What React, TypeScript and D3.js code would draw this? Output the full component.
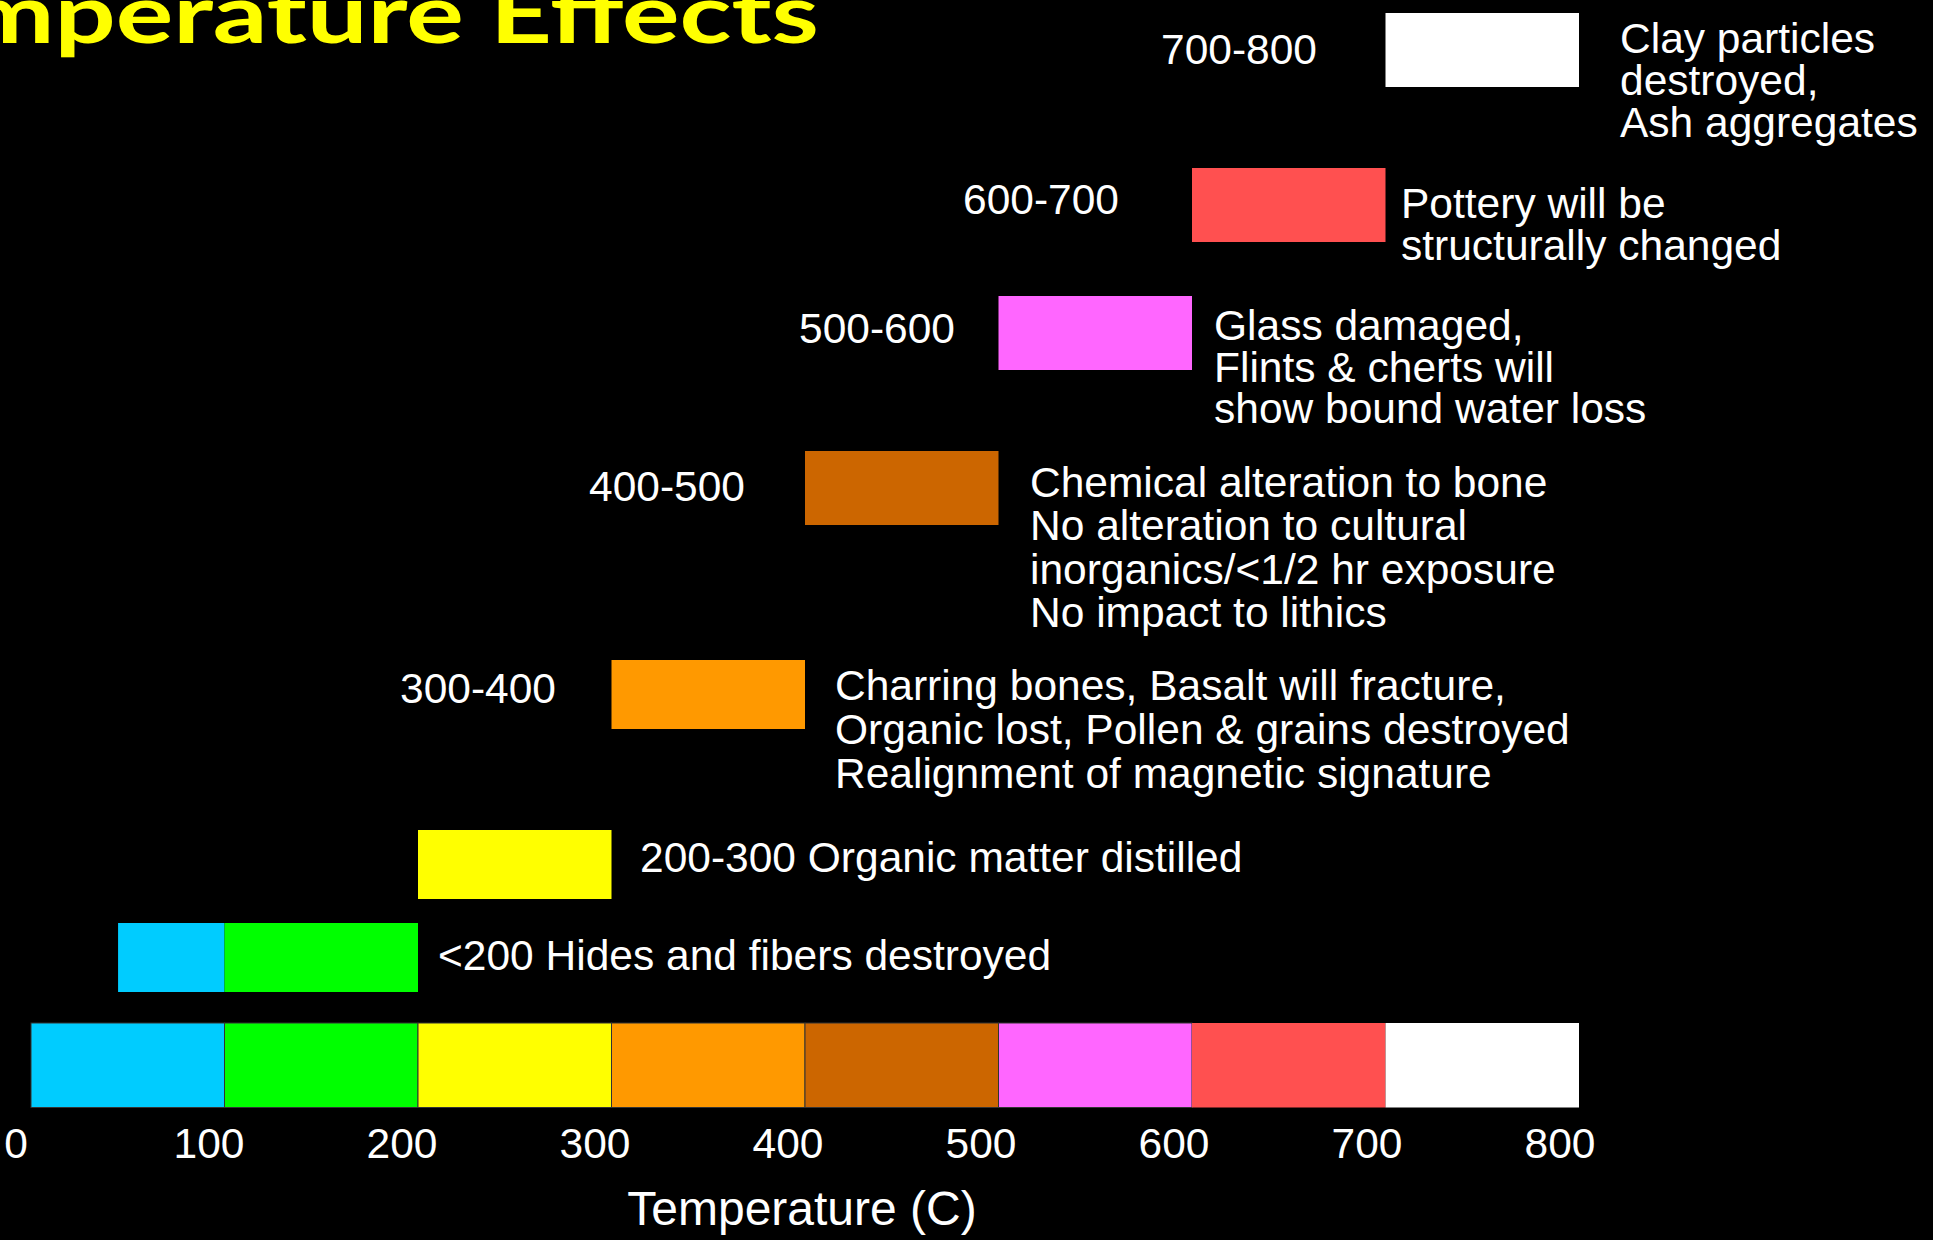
import React from "react";
import * as d3 from "d3";

// Temperature bands along the bottom scale (°C)
const bandStarts = [0, 100, 200, 300, 400, 500, 600, 700];
const bandWidth = 100;
const tickValues = [0, 100, 200, 300, 400, 500, 600, 700, 800];

// Effect rows, top to bottom
const rangeLabels = ["700-800", "600-700", "500-600", "400-500", "300-400", "", ""];
const rowIntervals: [number, number][][] = [
  [[700, 800]],
  [[600, 700]],
  [[500, 600]],
  [[400, 500]],
  [[300, 400]],
  [[200, 300]],
  [[45, 100], [100, 200]],
];
const effectLines: string[][] = [
  ["Clay particles", "destroyed,", "Ash aggregates"],
  ["Pottery will be", "structurally changed"],
  ["Glass damaged,", "Flints & cherts will", "show bound water loss"],
  ["Chemical alteration to bone", "No alteration to cultural", "inorganics/<1/2 hr exposure", "No impact to lithics"],
  ["Charring bones, Basalt will fracture,", "Organic lost, Pollen & grains destroyed", "Realignment of magnetic signature"],
  ["200-300 Organic matter distilled"],
  ["<200 Hides and fibers destroyed"],
];

const titleText = "Temperature Effects";
const axisTitle = "Temperature (C)";

// Styling / layout
const W = 1933;
const H = 1240;
const bandColors = ["#00CCFF", "#00FF00", "#FFFF00", "#FF9900", "#CC6600", "#FF66FF", "#FF5050", "#FFFFFF"];
const bandOutlined = [true, true, true, true, true, true, false, false];
const FONT = "'Liberation Sans', Arial, Helvetica, sans-serif";
const TEXT_SIZE = 42.5;

const rowLayout = [
  { top: 13, h: 74, labelRight: 1317, labelBase: 64, descX: 1620, descBase: 52.7, lh: 42.3 },
  { top: 168, h: 74, labelRight: 1119, labelBase: 214, descX: 1401, descBase: 218, lh: 42 },
  { top: 296, h: 74, labelRight: 955, labelBase: 343, descX: 1214, descBase: 340, lh: 41.5 },
  { top: 451, h: 74, labelRight: 745, labelBase: 501, descX: 1030, descBase: 497, lh: 43.3 },
  { top: 660, h: 69, labelRight: 556, labelBase: 703, descX: 835, descBase: 700, lh: 44 },
  { top: 830, h: 69, labelRight: 0, labelBase: 0, descX: 640, descBase: 872, lh: 42 },
  { top: 923, h: 69, labelRight: 0, labelBase: 0, descX: 438, descBase: 970, lh: 42 },
];

const barTop = 1023;
const barHeight = 84.5;

export default function App() {
  const x = d3.scaleLinear().domain([0, 800]).range([31, 1579]);
  const xLabel = d3.scaleLinear().domain([0, 800]).range([16, 1560]);
  const bandIndex = (v: number) => Math.min(bandColors.length - 1, Math.floor(v / bandWidth));

  return (
    <svg
      width={W}
      height={H}
      viewBox={`0 0 ${W} ${H}`}
      style={{ position: "absolute", left: 0, top: 0, display: "block" }}
    >
      <rect x={0} y={0} width={W} height={H} fill="#000000" />

      {/* Title (runs off the left edge) */}
      <text
        x={-145}
        y={43}
        fontFamily="Lato, 'Open Sans', sans-serif"
        fontWeight={700}
        fontSize={83}
        fill="#FFFF00"
        textLength={964}
        lengthAdjust="spacingAndGlyphs"
      >
        {titleText}
      </text>

      {/* Effect rows */}
      {rowIntervals.map((intervals, i) => {
        const L = rowLayout[i];
        return (
          <g key={`row-${i}`}>
            {intervals.map(([lo, hi], j) => (
              <rect
                key={j}
                x={x(lo)}
                y={L.top}
                width={x(hi) - x(lo)}
                height={L.h}
                fill={bandColors[bandIndex(lo)]}
              />
            ))}
            {rangeLabels[i] && (
              <text
                x={L.labelRight}
                y={L.labelBase}
                textAnchor="end"
                fontFamily={FONT}
                fontSize={TEXT_SIZE}
                fill="#FFFFFF"
              >
                {rangeLabels[i]}
              </text>
            )}
            <text x={L.descX} y={L.descBase} fontFamily={FONT} fontSize={TEXT_SIZE} fill="#FFFFFF">
              {effectLines[i].map((line, k) => (
                <tspan key={k} x={L.descX} dy={k === 0 ? 0 : L.lh}>
                  {line}
                </tspan>
              ))}
            </text>
          </g>
        );
      })}

      {/* Temperature scale bar */}
      {bandStarts.map((s, i) => (
        <rect
          key={`band-${s}`}
          x={x(s)}
          y={barTop}
          width={x(s + bandWidth) - x(s)}
          height={barHeight}
          fill={bandColors[i]}
          stroke={bandOutlined[i] ? "#333333" : "none"}
          strokeWidth={bandOutlined[i] ? 1 : 0}
        />
      ))}

      {/* Tick labels */}
      {tickValues.map((t) => (
        <text
          key={`tick-${t}`}
          x={xLabel(t)}
          y={1158}
          textAnchor="middle"
          fontFamily={FONT}
          fontSize={TEXT_SIZE}
          fill="#FFFFFF"
        >
          {t}
        </text>
      ))}

      {/* Axis title */}
      <text x={802} y={1225} textAnchor="middle" fontFamily={FONT} fontSize={48} fill="#FFFFFF">
        {axisTitle}
      </text>
    </svg>
  );
}
